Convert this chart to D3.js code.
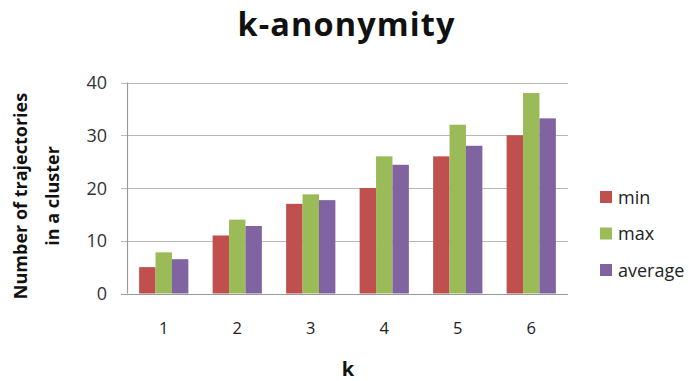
<!DOCTYPE html>
<html><head><meta charset="utf-8">
<script src="https://cdn.jsdelivr.net/npm/d3@7"></script>
<style>body{margin:0;background:#fff}svg{display:block}</style>
</head><body>
<svg id="c" width="689" height="381"></svg>
<script>
const categories = ["1","2","3","4","5","6"];
const seriesNames = ["min","max","average"];
const minVals = [5, 11, 17, 20, 26, 30];
const maxVals = [7.8, 14, 18.8, 26, 32, 38];
const avgVals = [6.5, 12.8, 17.7, 24.4, 28, 33.2];
const yTicks = [0, 10, 20, 30, 40];
const colors = ["#C0504D", "#9BBB59", "#8064A2"];

const series = [minVals, maxVals, avgVals];
const svg = d3.select("#c");
const font = "'Open Sans', 'Noto Sans', sans-serif";
const L = 127, R = 568, T = 82.5, B = 293.5;

const x = d3.scaleBand().domain(categories).range([L, R]).paddingInner(0.33).paddingOuter(0.165);
const xs = d3.scaleBand().domain(seriesNames).range([0, x.bandwidth()]);
const y = d3.scaleLinear().domain([0, 40]).range([B, T]);

// gridlines
svg.append("g").selectAll("line").data(yTicks).join("line")
  .attr("x1", L - 6).attr("x2", R)
  .attr("y1", d => Math.round(y(d)) + 0.5).attr("y2", d => Math.round(y(d)) + 0.5)
  .attr("stroke", d => d === 0 ? "#9a9a9a" : "#b8b8b8").attr("stroke-width", 1.2);

// y axis line
svg.append("line").attr("x1", L + 0.5).attr("x2", L + 0.5).attr("y1", T).attr("y2", B)
  .attr("stroke", "#9a9a9a").attr("stroke-width", 1.2);

// bars
const g = svg.append("g");
categories.forEach((c, i) => {
  series.forEach((s, j) => {
    g.append("rect")
      .attr("x", x(c) + xs(seriesNames[j]))
      .attr("y", y(s[i]))
      .attr("width", xs.bandwidth())
      .attr("height", y(0) - y(s[i]))
      .attr("fill", colors[j]);
  });
});

// y tick labels
svg.append("g").selectAll("text").data(yTicks).join("text")
  .attr("x", 107).attr("y", d => y(d) + 6.5)
  .attr("text-anchor", "end").attr("font-family", font).attr("font-size", 18)
  .attr("fill", "#333").text(d => d);

// x tick labels
svg.append("g").selectAll("text").data(categories).join("text")
  .attr("x", d => x(d) + x.bandwidth() / 2).attr("y", 334)
  .attr("text-anchor", "middle").attr("font-family", font).attr("font-size", 16.5)
  .attr("fill", "#222").text(d => d);

// title
svg.append("text").attr("x", 346).attr("y", 36).attr("text-anchor", "middle")
  .attr("font-family", font).attr("font-weight", "bold").attr("font-size", 32.5)
  .attr("textLength", 217).attr("lengthAdjust", "spacing")
  .attr("fill", "#111").text("k-anonymity");

// x title
svg.append("text").attr("x", 348).attr("y", 376).attr("text-anchor", "middle")
  .attr("font-family", font).attr("font-weight", "bold").attr("font-size", 20)
  .attr("fill", "#111").text("k");

// y title
const yt = svg.append("text").attr("transform", "translate(0,196) rotate(-90)")
  .attr("text-anchor", "middle").attr("font-family", font).attr("font-weight", "bold")
  .attr("font-size", 18).attr("fill", "#111");
yt.append("tspan").attr("x", 0).attr("y", 27).text("Number of trajectories");
yt.append("tspan").attr("x", 0).attr("y", 59).text("in a cluster");

// legend
const lg = svg.append("g").selectAll("g").data(seriesNames).join("g")
  .attr("transform", (d, i) => `translate(600,${191 + i * 36.5})`);
lg.append("rect").attr("width", 12).attr("height", 12).attr("fill", (d, i) => colors[i]);
lg.append("text").attr("x", 18).attr("y", 12.5).attr("font-family", font)
  .attr("font-size", 18).attr("fill", "#222").text(d => d);
</script>
</body></html>
